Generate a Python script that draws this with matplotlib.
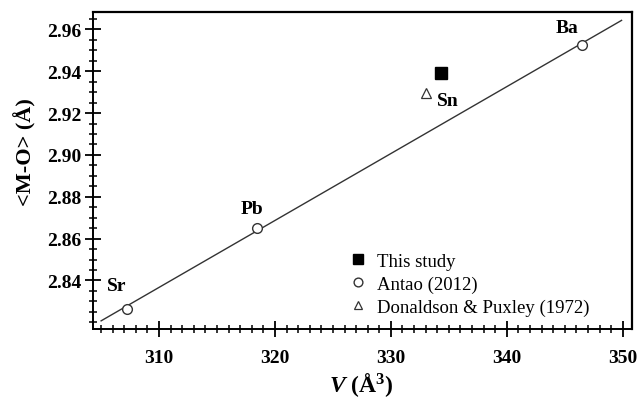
import matplotlib.pyplot as plt
from matplotlib.ticker import MultipleLocator, FixedLocator

# data
antao_v = [307.2, 318.45, 346.5]
antao_mo = [2.8265, 2.8652, 2.9523]
antao_names = ['Sr', 'Pb', 'Ba']
study_v = [334.3]
study_mo = [2.9392]
dp_v = [333.0]
dp_mo = [2.9296]
line_v = [305.0, 349.9]
line_mo = [2.8207, 2.9643]
y_ticks = [2.84, 2.86, 2.88, 2.90, 2.92, 2.94, 2.96]

plt.rcParams['font.family'] = 'Liberation Serif'
plt.rcParams['mathtext.fontset'] = 'custom'
plt.rcParams['mathtext.rm'] = 'Liberation Serif'
plt.rcParams['mathtext.bf'] = 'Liberation Serif:bold'
plt.rcParams['mathtext.it'] = 'Liberation Serif:italic'
plt.rcParams['mathtext.bfit'] = 'Liberation Serif:italic:bold'

fig = plt.figure(figsize=(6.38, 4.02), dpi=100)
ax = fig.add_axes([93 / 638, 1 - 330 / 402, (632 - 93) / 638, (330 - 13) / 402])

ax.plot(line_v, line_mo, color='#333333', lw=1.0, zorder=1)
ax.plot(antao_v, antao_mo, 'o', ms=7, mfc='white', mec='#333333', mew=1.0, zorder=2,
        label='Antao (2012)')
ax.plot(study_v, study_mo, 's', ms=8, color='black', zorder=2, label='This study')
ax.plot(dp_v, dp_mo, '^', ms=7, mfc='white', mec='#333333', mew=0.9, zorder=2,
        label='Donaldson & Puxley (1972)')

offsets = {'Sr': (-7, 17), 'Pb': (-4, 14), 'Ba': (-11, 13)}
for name, v, mo in zip(antao_names, antao_v, antao_mo):
    ax.annotate(name, (v, mo), xytext=offsets[name], textcoords='offset points',
                ha='center', va='center', fontsize=14, fontweight='bold')
ax.annotate('Sn', (study_v[0], study_mo[0]), xytext=(5, -20), textcoords='offset points',
            ha='center', va='center', fontsize=14, fontweight='bold')

ax.set_xlim(304.3, 350.8)
ax.set_ylim(2.8168, 2.9683)
ax.xaxis.set_major_locator(MultipleLocator(10))
ax.xaxis.set_minor_locator(MultipleLocator(1))
ax.yaxis.set_major_locator(FixedLocator(y_ticks))
ax.yaxis.set_minor_locator(MultipleLocator(0.005))
ax.yaxis.set_major_formatter(plt.FormatStrFormatter('%.2f'))
ax.tick_params(which='major', direction='inout', length=11, width=1.3, labelsize=14, pad=3)
ax.tick_params(which='minor', direction='inout', length=6, width=1.1)
ax.tick_params(axis='x', pad=9)
for lab in ax.get_xticklabels() + ax.get_yticklabels():
    lab.set_fontweight('bold')
for side in ['left', 'bottom']:
    ax.spines[side].set_linewidth(1.4)
for side in ['top', 'right']:
    ax.spines[side].set_linewidth(1.6)

ax.set_xlabel(r'$\mathbfit{V}$ ($\mathbf{\AA}^{\mathbf{3}}$)', fontsize=17, fontweight='bold')
ax.xaxis.set_label_coords(0.497, -0.13)
ax.set_ylabel('<M-O> (Å)', fontsize=16, fontweight='bold')
ax.yaxis.set_label_coords(-0.104, 0.56)

handles, labels = ax.get_legend_handles_labels()
order = [1, 0, 2]
leg = ax.legend([handles[i] for i in order], [labels[i] for i in order],
                loc='lower right', bbox_to_anchor=(0.952, -0.011), frameon=False,
                fontsize=13.5, handlelength=1.0, handletextpad=0.5, labelspacing=0.3,
                markerscale=0.9)

fig.savefig('out.png', dpi=100)
